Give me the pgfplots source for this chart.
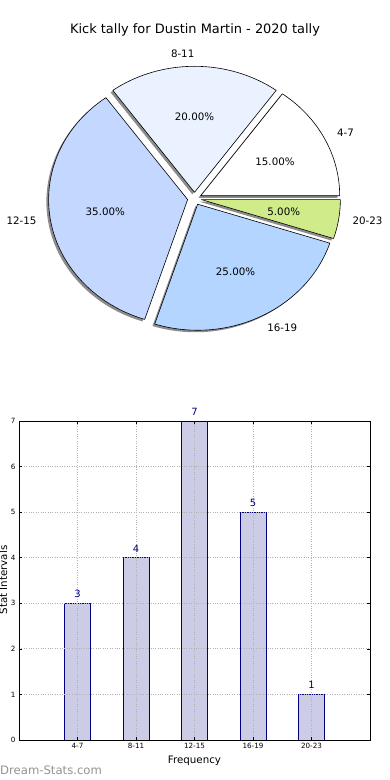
\documentclass[border=0pt]{standalone}
\usepackage{pgfplots}
\pgfplotsset{compat=1.18}
\usepackage{pgfplotstable}
\usepackage{fontspec}
\setmainfont{DejaVu Sans}

\definecolor{slice0}{HTML}{FFFFFF}
\definecolor{slice1}{HTML}{EAF2FF}
\definecolor{slice2}{HTML}{C4D8FF}
\definecolor{slice3}{HTML}{B3D5FF}
\definecolor{slice4}{HTML}{CFEB8A}
\definecolor{barfill}{HTML}{CCCCE6}
\definecolor{barnavy}{HTML}{000080}

\pgfplotstableread{
label value
4-7 3
8-11 4
12-15 7
16-19 5
20-23 1
}\kicks

\pgfplotstableread{
x y
1 3
2 4
3 7
4 5
5 1
}\bars

\begin{document}
\begin{tikzpicture}
\useasboundingbox (0,0) rectangle (390bp,780bp);
\fill[white] (0,0) rectangle (390bp,780bp);
\node[font=\fontsize{13}{15}\selectfont] at (195bp,750bp) {Kick tally for Dustin Martin - 2020 tally};

\begin{axis}[hide axis, x=139bp, y=126bp, xmin=-1.3, xmax=1.3, ymin=-1.3, ymax=1.3,
  anchor=origin, at={(194.5bp,581.4bp)}, clip=false,
  /pgf/number format/assume math mode=true]
\def\tot{0}
\pgfplotsforeachungrouped \i in {0,...,4}{%
  \pgfplotstablegetelem{\i}{value}\of\kicks
  \pgfmathsetmacro\tot{\tot+\pgfplotsretval}%
}
% shadows
\def\angA{0}
\pgfplotsforeachungrouped \i in {0,...,4}{%
  \pgfplotstablegetelem{\i}{value}\of\kicks
  \pgfmathsetmacro\angB{\angA+360*\pgfplotsretval/\tot}%
  \pgfmathsetmacro\midang{(\angA+\angB)/2}%
  \pgfmathsetmacro\ox{0.05*cos(\midang)-0.016}%
  \pgfmathsetmacro\oy{0.05*sin(\midang)-0.016}%
  \pgfmathsetmacro\ptx{\ox+cos(\angA)}%
  \pgfmathsetmacro\pty{\oy+sin(\angA)}%
  \edef\temp{\noexpand\fill[black!45] (axis cs:\ox,\oy) -- (axis cs:\ptx,\pty) arc[start angle=\angA, end angle=\angB, x radius=139bp, y radius=126bp] -- cycle;}%
  \temp
  \let\angA\angB
}
% wedges and labels
\def\angA{0}
\pgfplotsforeachungrouped \i in {0,...,4}{%
  \pgfplotstablegetelem{\i}{value}\of\kicks
  \let\val\pgfplotsretval
  \pgfmathsetmacro\angB{\angA+360*\val/\tot}%
  \pgfmathsetmacro\pct{100*\val/\tot}%
  \pgfmathsetmacro\midang{(\angA+\angB)/2}%
  \pgfmathsetmacro\ox{0.05*cos(\midang)}%
  \pgfmathsetmacro\oy{0.05*sin(\midang)}%
  \pgfmathsetmacro\ptx{\ox+cos(\angA)}%
  \pgfmathsetmacro\pty{\oy+sin(\angA)}%
  \pgfmathsetmacro\lx{1.15*cos(\midang)}%
  \pgfmathsetmacro\ly{1.15*sin(\midang)}%
  \pgfmathsetmacro\qx{0.65*cos(\midang)}%
  \pgfmathsetmacro\qy{0.65*sin(\midang)}%
  \ifdim\lx pt>0.01pt \def\anc{west}\else\def\anc{east}\fi
  \pgfplotstablegetelem{\i}{label}\of\kicks
  \edef\temp{\noexpand\filldraw[fill=slice\i, draw=black, line width=0.6bp, line join=round] (axis cs:\ox,\oy) -- (axis cs:\ptx,\pty) arc[start angle=\angA, end angle=\angB, x radius=139bp, y radius=126bp] -- cycle;
    \noexpand\node[anchor=\anc, inner sep=0pt, font=\noexpand\fontsize{10.3}{12}\noexpand\selectfont] at (axis cs:\lx,\ly) {\pgfplotsretval};
    \noexpand\node[inner sep=0pt, font=\noexpand\fontsize{10.3}{12}\noexpand\selectfont] at (axis cs:\qx,\qy) {\noexpand\pgfmathprintnumber[fixed, fixed zerofill, precision=2]{\pct}\noexpand\%};}%
  \temp
  \let\angA\angB
}
\end{axis}

\begin{axis}[at={(19bp,40bp)}, anchor=south west, scale only axis,
  width=351bp, height=319bp,
  xmin=0, xmax=6, ymin=0, ymax=7,
  xtick={1,...,5}, xticklabels={4-7,8-11,12-15,16-19,20-23},
  ytick={0,...,7},
  grid=major, grid style={dotted, black!30, line width=0.8bp},
  tick align=inside, xtick pos=both, ytick pos=both,
  major tick length=3bp,
  axis line style={line width=0.8bp},
  tick style={black, line width=0.6bp},
  ticklabel style={font=\fontsize{7.2}{8}\selectfont},
  /pgf/number format/assume math mode=true,
  axis on top, clip=false,
  xlabel={Frequency},
  xlabel style={font=\fontsize{10.3}{12}\selectfont, inner sep=0pt, at={(axis description cs:0.5,0)}, anchor=base, yshift=-24bp},
]
\addplot[ybar, bar width=26bp, fill=barfill, draw=barnavy, line width=0.8bp,
  nodes near coords,
  nodes near coords style={font=\fontsize{10}{12}\selectfont, text=barnavy, anchor=base, inner sep=0pt, yshift=5.5bp}]
  table[x=x, y=y] {\bars};
\end{axis}

\node[rotate=90, anchor=base, inner sep=0pt, font=\fontsize{10.3}{12}\selectfont] at (7bp,200bp) {Stat Intervals};
\node[anchor=west, inner sep=0pt, text=black!42, font=\fontsize{11.7}{13}\selectfont] at (0bp,10bp) {Dream-Stats.com};
\end{tikzpicture}
\end{document}
